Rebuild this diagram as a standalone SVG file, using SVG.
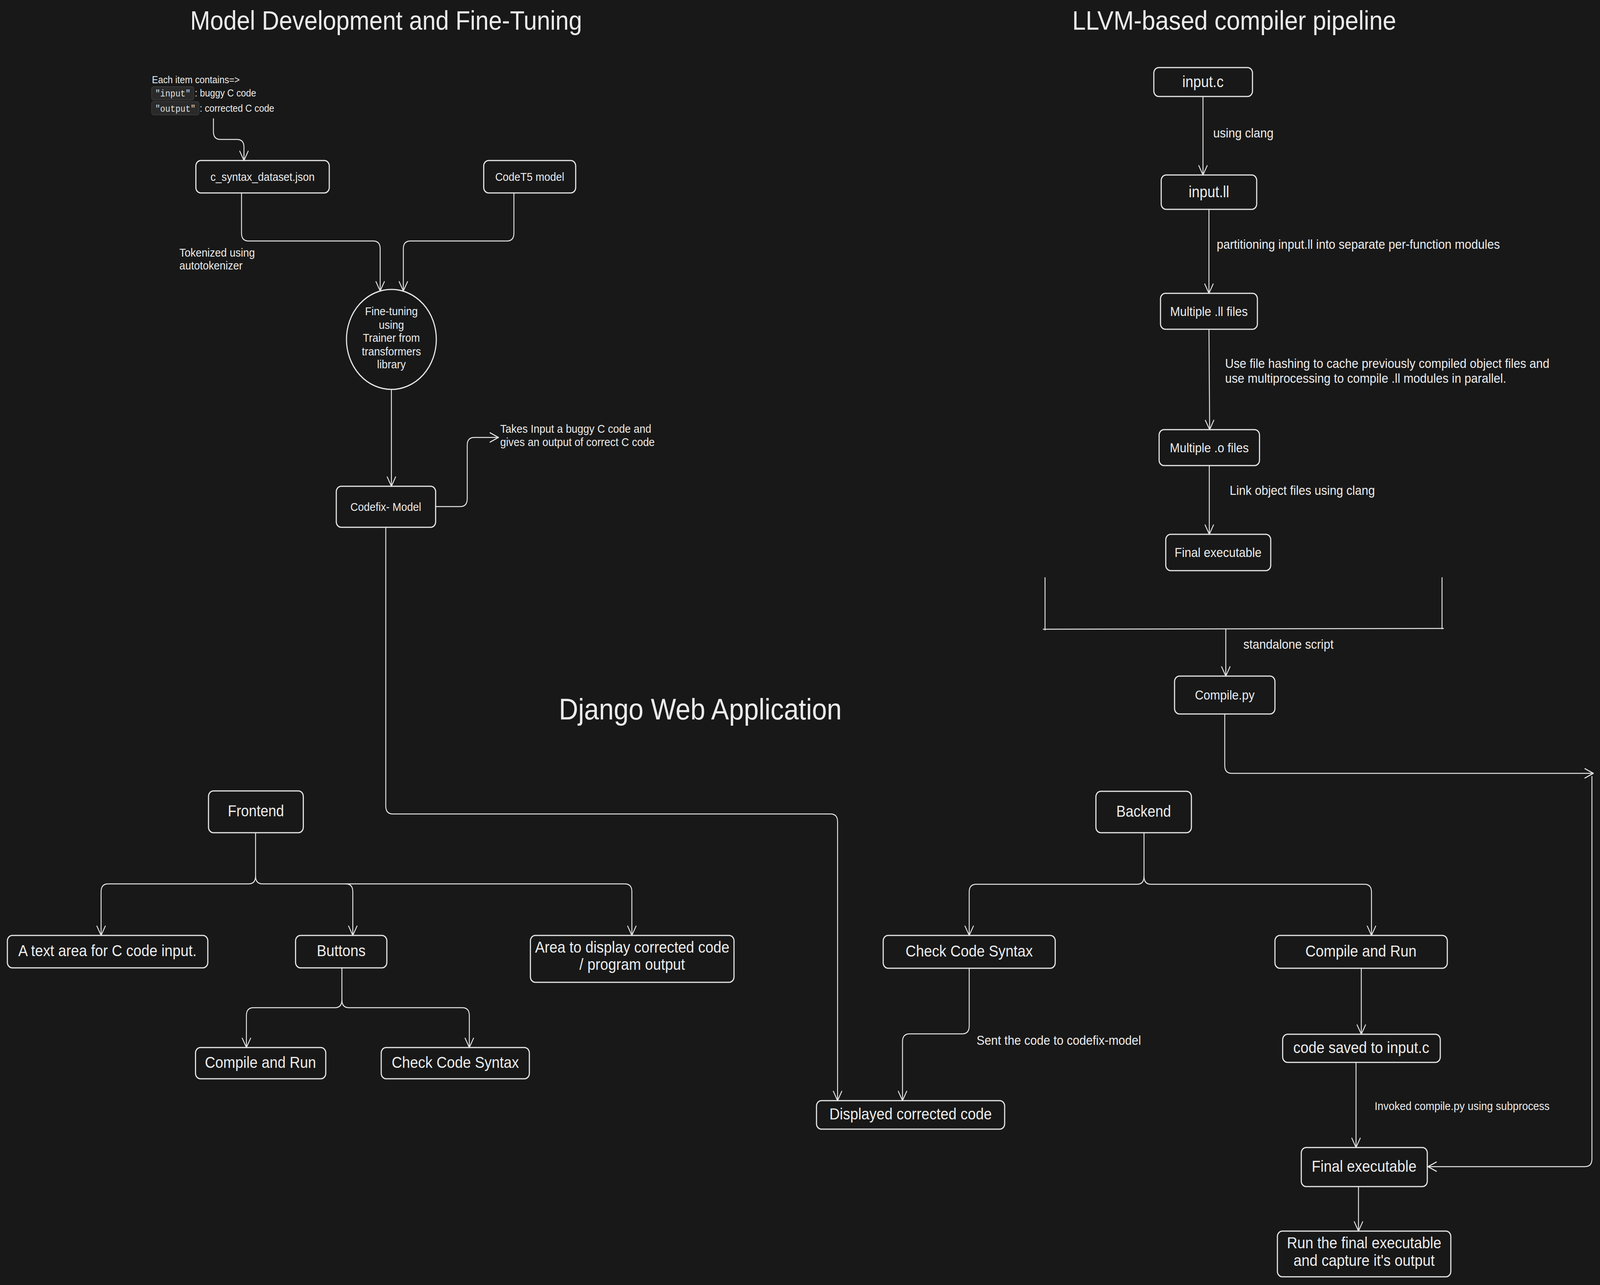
<svg xmlns="http://www.w3.org/2000/svg" width="4558" height="3290" viewBox="0 0 4558 3290" preserveAspectRatio="none" style="width:100vw;height:100vh;display:block">
<style>
.bg{fill:#181818}
.node{fill:none;stroke:#e6e6e6;stroke-width:3.2}
.t{font-family:"Liberation Sans",Arial,sans-serif;fill:#ececec}
.c{text-anchor:middle;dominant-baseline:central}
.title{font-size:68px;text-anchor:middle}
.n30{font-size:30px}
.n34{font-size:34px}
.n40{font-size:40px}
.n41{font-size:41px}
.lbl30{font-size:30px}
.lbl34{font-size:34px}
.mono{font-family:"Liberation Mono","Courier New",monospace;font-size:24px;fill:#e0e0e0}
.pill{fill:#2a2a2a;stroke:#3a3a3a;stroke-width:2}
.conn path{fill:none;stroke:#e6e6e6;stroke-width:2.6;stroke-linecap:round;stroke-linejoin:round}
.conn path.arrow{marker-end:url(#ah)}
</style>
<defs>
<marker id="ah" markerWidth="40" markerHeight="40" refX="30" refY="20" orient="auto" markerUnits="userSpaceOnUse">
<path d="M6,8 L30,20 L6,32" fill="none" stroke="#e6e6e6" stroke-width="2.6" stroke-linecap="round" stroke-linejoin="round"/>
</marker>
</defs>
<rect class="bg" x="0" y="0" width="4558" height="3290"/>

<g id="titles">
<text class="t title" x="1100" y="76">Model Development and Fine-Tuning</text>
<text class="t title" x="3516" y="76" style="font-size:69px">LLVM-based compiler pipeline</text>
<text class="t title" x="1995" y="1842" style="font-size:76px">Django Web Application</text>
</g>

<g id="connectors" class="conn">
<path class="arrow" d="M608,304 L608,337 Q608,357 628,357 L675,357 Q695,357 695,377 L695,411"/>
<path class="arrow" d="M688,494 L688,597 Q688,617 708,617 L1063,617 Q1083,617 1083,637 L1083,745"/>
<path class="arrow" d="M1464,494 L1464,597 Q1464,617 1444,617 L1169,617 Q1149,617 1149,637 L1149,745"/>
<path class="arrow" d="M1115,997 L1115,1245"/>
<path class="arrow" d="M1241,1297 L1311,1297 Q1331,1297 1331,1277 L1331,1140 Q1331,1120 1351,1120 L1420,1120"/>
<path class="arrow" d="M1099,1350 L1099,2064 Q1099,2084 1119,2084 L2366,2084 Q2386,2084 2386,2104 L2386,2818"/>
<path class="arrow" d="M3427,247 L3427,448"/>
<path class="arrow" d="M3444,536 L3444,751"/>
<path class="arrow" d="M3444,843 L3446,1100"/>
<path class="arrow" d="M3445,1192 L3445,1368"/>
<path d="M2977,1479 L2977,1613"/>
<path d="M2972,1611 L4112,1609"/>
<path d="M4108,1479 L4108,1610"/>
<path class="arrow" d="M3492,1611 L3492,1731"/>
<path class="arrow" d="M3489,1828 L3489,1960 Q3489,1980 3509,1980 L4539,1980"/>
<path class="arrow" d="M4535,1988 L4535,2967 Q4535,2987 4515,2987 L4068,2987"/>
<path class="arrow" d="M728,2132 L728,2243 Q728,2263 708,2263 L308,2263 Q288,2263 288,2283 L288,2395"/>
<path class="arrow" d="M728,2243 Q728,2263 748,2263 L985,2263 Q1005,2263 1005,2283 L1005,2395"/>
<path class="arrow" d="M985,2263 L1780,2263 Q1800,2263 1800,2283 L1800,2395"/>
<path class="arrow" d="M974,2478 L974,2560 Q974,2580 954,2580 L722,2580 Q702,2580 702,2600 L702,2682"/>
<path class="arrow" d="M974,2560 Q974,2580 994,2580 L1317,2580 Q1337,2580 1337,2600 L1337,2682"/>
<path class="arrow" d="M3259,2132 L3259,2244 Q3259,2264 3239,2264 L2781,2264 Q2761,2264 2761,2284 L2761,2395"/>
<path class="arrow" d="M3259,2244 Q3259,2264 3279,2264 L3887,2264 Q3907,2264 3907,2284 L3907,2395"/>
<path class="arrow" d="M2761,2479 L2761,2627 Q2761,2647 2741,2647 L2591,2647 Q2571,2647 2571,2667 L2571,2818"/>
<path class="arrow" d="M3878,2479 L3878,2648"/>
<path class="arrow" d="M3863,2720 L3863,2938"/>
<path class="arrow" d="M3870,3038 L3870,3152"/>
</g>

<g id="labels">
<text class="t lbl30" x="511" y="657">Tokenized using</text>
<text class="t lbl30" x="511" y="690">autotokenizer</text>
<text class="t lbl30" x="1425" y="1108">Takes Input a buggy C code and</text>
<text class="t lbl30" x="1425" y="1142">gives an output of correct C code</text>
<text class="t lbl34" x="3456" y="352">using clang</text>
<text class="t lbl34" x="3466" y="637">partitioning input.ll into separate per-function modules</text>
<text class="t lbl34" x="3490" y="942">Use file hashing to cache previously compiled object files and</text>
<text class="t lbl34" x="3490" y="980">use multiprocessing to compile .ll modules in parallel.</text>
<text class="t lbl34" x="3503" y="1267">Link object files using clang</text>
<text class="t lbl34" x="3542" y="1661">standalone script</text>
<text class="t lbl34" x="2782" y="2675">Sent the code to codefix-model</text>
<text class="t lbl30" x="3916" y="2842">Invoked compile.py using subprocess</text>
</g>

<g id="dataset-note">
<text class="t" x="433" y="213" style="font-size:26px">Each item contains=&gt;</text>
<rect class="pill" x="432" y="222" width="120" height="34" rx="6"/>
<text class="mono" x="442" y="247">"input"</text>
<text class="t" x="555" y="247" style="font-size:26px">: buggy C code</text>
<rect class="pill" x="432" y="260" width="135" height="34" rx="6"/>
<text class="mono" x="442" y="286">"output"</text>
<text class="t" x="569" y="286" style="font-size:26px">: corrected C code</text>
</g>

<g id="node-dataset">
<rect class="node" x="558" y="411" width="380" height="83" rx="14"/>
<text class="t c n30" x="748" y="452">c_syntax_dataset.json</text>
</g>
<g id="node-codet5">
<rect class="node" x="1378" y="411" width="262" height="83" rx="14"/>
<text class="t c n30" x="1509" y="452">CodeT5 model</text>
</g>
<g id="node-finetune">
<circle class="node" cx="1115" cy="869" r="128"/>
<text class="t n30" text-anchor="middle" x="1115" y="807">Fine-tuning</text>
<text class="t n30" text-anchor="middle" x="1115" y="842">using</text>
<text class="t n30" text-anchor="middle" x="1115" y="875">Trainer from</text>
<text class="t n30" text-anchor="middle" x="1115" y="910">transformers</text>
<text class="t n30" text-anchor="middle" x="1115" y="943">library</text>
</g>
<g id="node-codefix">
<rect class="node" x="958" y="1245" width="283" height="105" rx="14"/>
<text class="t c n30" x="1099" y="1297">Codefix- Model</text>
</g>

<g id="node-inputc">
<rect class="node" x="3287" y="173" width="281" height="74" rx="14"/>
<text class="t c n40" x="3427" y="209">input.c</text>
</g>
<g id="node-inputll">
<rect class="node" x="3308" y="448" width="272" height="88" rx="14"/>
<text class="t c n40" x="3444" y="491">input.ll</text>
</g>
<g id="node-multill">
<rect class="node" x="3306" y="751" width="276" height="92" rx="14"/>
<text class="t c n34" x="3444" y="797">Multiple .ll files</text>
</g>
<g id="node-multio">
<rect class="node" x="3302" y="1100" width="286" height="92" rx="14"/>
<text class="t c n34" x="3445" y="1146">Multiple .o files</text>
</g>
<g id="node-finalexe-llvm">
<rect class="node" x="3321" y="1368" width="299" height="93" rx="14"/>
<text class="t c n34" x="3470" y="1414">Final executable</text>
</g>
<g id="node-compilepy">
<rect class="node" x="3346" y="1731" width="286" height="97" rx="14"/>
<text class="t c n34" x="3489" y="1779">Compile.py</text>
</g>

<g id="node-frontend">
<rect class="node" x="594" y="2025" width="270" height="107" rx="14"/>
<text class="t c n40" x="729" y="2076">Frontend</text>
</g>
<g id="node-textarea">
<rect class="node" x="21" y="2395" width="571" height="83" rx="14"/>
<text class="t c n41" x="306" y="2434">A text area for C code input.</text>
</g>
<g id="node-buttons">
<rect class="node" x="842" y="2395" width="260" height="83" rx="14"/>
<text class="t c n41" x="972" y="2434">Buttons</text>
</g>
<g id="node-area">
<rect class="node" x="1511" y="2395" width="580" height="120" rx="14"/>
<text class="t n41" text-anchor="middle" x="1801" y="2439">Area to display corrected code</text>
<text class="t n41" text-anchor="middle" x="1801" y="2483">/ program output</text>
</g>
<g id="node-compilerun-f">
<rect class="node" x="557" y="2682" width="371" height="80" rx="14"/>
<text class="t c n41" x="742" y="2720">Compile and Run</text>
</g>
<g id="node-checksyntax-f">
<rect class="node" x="1086" y="2682" width="422" height="80" rx="14"/>
<text class="t c n41" x="1297" y="2720">Check Code Syntax</text>
</g>

<g id="node-backend">
<rect class="node" x="3122" y="2026" width="272" height="106" rx="14"/>
<text class="t c n40" x="3258" y="2077">Backend</text>
</g>
<g id="node-checksyntax-b">
<rect class="node" x="2516" y="2395" width="490" height="84" rx="14"/>
<text class="t c n41" x="2761" y="2435">Check Code Syntax</text>
</g>
<g id="node-compilerun-b">
<rect class="node" x="3632" y="2395" width="491" height="84" rx="14"/>
<text class="t c n41" x="3877" y="2435">Compile and Run</text>
</g>
<g id="node-displayed">
<rect class="node" x="2326" y="2818" width="536" height="73" rx="14"/>
<text class="t c n41" x="2594" y="2852">Displayed corrected code</text>
</g>
<g id="node-codesaved">
<rect class="node" x="3654" y="2648" width="449" height="72" rx="14"/>
<text class="t c n41" x="3878" y="2682">code saved to input.c</text>
</g>
<g id="node-finalexe-b">
<rect class="node" x="3707" y="2938" width="359" height="100" rx="14"/>
<text class="t c n41" x="3886" y="2986">Final executable</text>
</g>
<g id="node-run">
<rect class="node" x="3639" y="3152" width="494" height="117" rx="14"/>
<text class="t n41" text-anchor="middle" x="3886" y="3196">Run the final executable</text>
<text class="t n41" text-anchor="middle" x="3886" y="3241">and capture it's output</text>
</g>
</svg>
